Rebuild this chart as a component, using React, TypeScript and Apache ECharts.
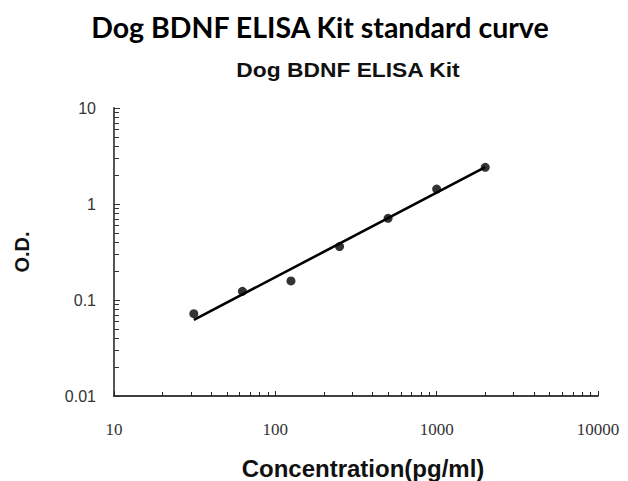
import React, { useEffect, useRef } from "react";
import * as echarts from "echarts";

const concentrations = [31.25, 62.5, 125, 250, 500, 1000, 2000];
const odValues = [0.072, 0.123, 0.158, 0.36, 0.71, 1.43, 2.41];
const fitX = [31.25, 2000];
const fitY = [0.062, 2.42];
const xTickLabels = [10, 100, 1000, 10000];
const yTickLabels = [0.01, 0.1, 1, 10];
const mainTitle = "Dog BDNF ELISA Kit standard curve";
const subTitle = "Dog BDNF ELISA Kit";
const xName = "Concentration(pg/ml)";
const yName = "O.D.";

// minor tick positions (log10 of 2..9 times each decade)
const minorX: number[] = [];
for (let d = 1; d < 4; d++) for (let k = 2; k <= 9; k++) minorX.push(Math.log10(k * Math.pow(10, d)));
const minorY: number[] = [];
for (let d = -2; d < 1; d++) for (let k = 2; k <= 9; k++) minorY.push(Math.log10(k * Math.pow(10, d)));

export default function App() {
  const ref = useRef<HTMLDivElement>(null);
  useEffect(() => {
    document.body.style.margin = "0";
    const chart = echarts.init(ref.current!, null, { renderer: "svg" });
    chart.setOption({
      animation: false,
      backgroundColor: "#ffffff",
      grid: { left: 114, right: 30, top: 108, bottom: 85, outerBoundsMode: "none", containLabel: false },
      graphic: [
        {
          type: "text",
          x: 320,
          y: 27,
          style: {
            text: mainTitle,
            font: "bold 28.5px Lato",
            fill: "#000",
            textAlign: "center",
            textVerticalAlign: "middle",
          },
        },
        {
          type: "text",
          x: 348,
          y: 70,
          scaleX: 1.14,
          style: {
            text: subTitle,
            font: "bold 20px 'Liberation Sans'",
            fill: "#111",
            textAlign: "center",
            textVerticalAlign: "middle",
          },
        },
      ],
      xAxis: [
        {
          type: "log",
          logBase: 10,
          min: 10,
          max: 10000,
          name: xName,
          nameLocation: "middle",
          nameGap: 60,
          nameMoveOverlap: false,
          nameTextStyle: {
            fontFamily: "Liberation Sans",
            fontWeight: "bold",
            fontSize: 24,
            color: "#111",
            padding: [0, 0, 0, 14],
          },
          axisLine: { onZero: false, lineStyle: { color: "#000", width: 1.5 } },
          axisTick: { show: true, inside: true, length: 5, lineStyle: { color: "#222" } },
          axisLabel: {
            showMinLabel: true,
            showMaxLabel: true,
            margin: 25,
            fontFamily: "Liberation Serif",
            fontSize: 17,
            color: "#333",
            formatter: (v: number) => {
              const idx = xTickLabels.findIndex((t) => Math.abs(t - v) / t < 1e-6);
              return idx >= 0 ? String(xTickLabels[idx]) : String(v);
            },
          },
          splitLine: { show: false },
        },
        {
          type: "value",
          min: 1,
          max: 4,
          position: "bottom",
          axisLine: { show: false, onZero: false },
          axisLabel: { show: false },
          axisTick: { show: true, inside: true, length: 4, customValues: minorX, lineStyle: { color: "#222" } },
          splitLine: { show: false },
        },
      ],
      yAxis: [
        {
          type: "log",
          logBase: 10,
          min: 0.01,
          max: 10,
          name: yName,
          nameLocation: "middle",
          nameGap: 82,
          nameMoveOverlap: false,
          nameTextStyle: {
            fontFamily: "Liberation Sans",
            fontWeight: "bold",
            fontSize: 20,
            color: "#111",
          },
          axisLine: { onZero: false, lineStyle: { color: "#555", width: 2 } },
          axisTick: { show: true, inside: true, length: 6, lineStyle: { color: "#333" } },
          axisLabel: {
            showMinLabel: true,
            showMaxLabel: true,
            margin: 18,
            fontFamily: "Liberation Sans",
            fontSize: 16,
            color: "#333",
            formatter: (v: number) => {
              const idx = yTickLabels.findIndex((t) => Math.abs(t - v) / t < 1e-6);
              return idx >= 0 ? String(yTickLabels[idx]) : String(v);
            },
          },
          splitLine: { show: false },
        },
        {
          type: "value",
          min: -2,
          max: 1,
          position: "left",
          axisLine: { show: false, onZero: false },
          axisLabel: { show: false },
          axisTick: { show: true, inside: true, length: 5, customValues: minorY, lineStyle: { color: "#333" } },
          splitLine: { show: false },
        },
      ],
      series: [
        {
          type: "line",
          xAxisIndex: 0,
          yAxisIndex: 0,
          data: fitX.map((x, i) => [x, fitY[i]]),
          symbol: "none",
          lineStyle: { color: "#000", width: 2.6 },
          silent: true,
        },
        {
          type: "scatter",
          xAxisIndex: 0,
          yAxisIndex: 0,
          data: concentrations.map((x, i) => [x, odValues[i]]),
          symbolSize: 9,
          itemStyle: { color: "#000" },
        },
      ],
    });
    return () => chart.dispose();
  }, []);
  return <div ref={ref} style={{ width: 628, height: 481 }} />;
}
